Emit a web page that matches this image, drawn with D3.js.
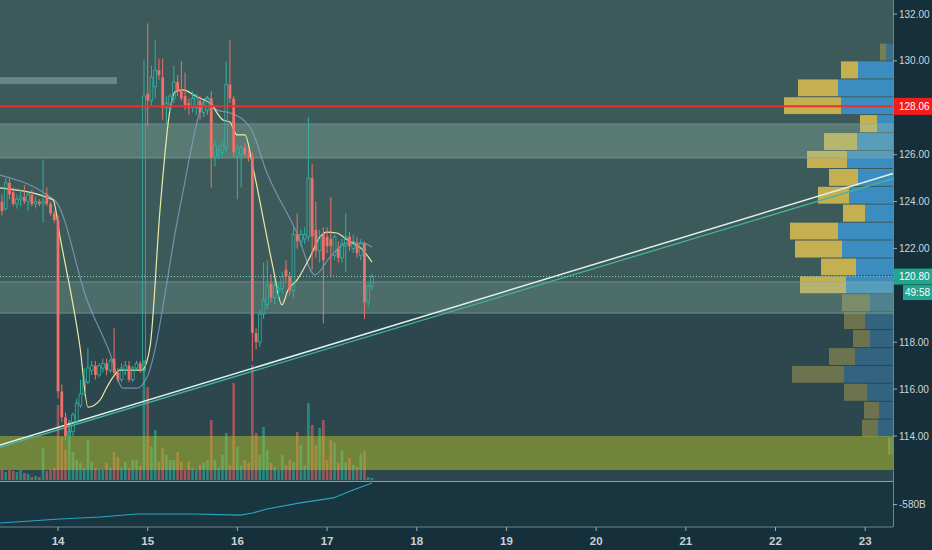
<!DOCTYPE html>
<html>
<head>
<meta charset="utf-8">
<script src="https://cdn.jsdelivr.net/npm/d3@7"></script>
<style>
html, body { margin: 0; padding: 0; background: #15303a; }
svg { display: block; font-family: "Liberation Sans", Arial, sans-serif; }
</style>
</head>
<body>
<svg id="chart" width="932" height="550"></svg>
<script>
// hourly candles, [open, high, low, close], first one at day 13.375
var candleStart = 13.375;
var candles = [
  [124.0,124.3,123.4,123.6],[123.7,125.0,123.6,124.8],[124.8,125.0,124.1,124.3],[124.4,124.6,123.8,123.9],
  [123.9,124.3,123.7,124.1],[124.1,124.5,123.8,124.2],[124.2,124.7,123.9,124.0],[124.0,124.4,123.6,124.3],
  [124.3,124.5,123.8,123.9],[123.9,124.2,123.7,124.0],[124.0,124.1,123.8,123.9],[123.9,125.8,123.1,124.0],
  [124.3,124.6,123.8,123.9],[123.9,124.0,123.4,123.5],[123.5,123.6,123.1,123.2],[123.2,123.4,115.6,115.9],
  [115.9,116.2,114.6,114.8],[114.8,115.0,113.8,114.0],[114.0,114.3,113.8,114.2],[114.2,115.0,114.0,114.9],
  [114.6,115.6,114.5,115.4],[115.3,116.4,115.2,115.8],[115.8,116.9,115.7,116.4],[116.3,117.75,116.2,116.9],
  [116.8,117.2,116.6,117.0],[117.0,117.2,116.4,116.6],[116.6,117.1,116.5,117.0],[116.9,117.3,116.7,117.1],
  [117.1,117.3,116.6,116.8],[116.8,117.3,116.7,117.2],[117.3,118.6,116.6,116.7],[116.7,116.9,116.3,116.4],
  [116.4,117.1,116.3,116.9],[116.8,117.2,116.6,117.0],[117.0,117.2,116.3,116.4],[116.4,117.0,116.3,116.9],
  [116.9,117.2,116.8,117.1],[117.1,117.2,116.7,116.8],[116.8,130.0,116.7,128.5],[128.6,131.6,127.2,128.3],
  [128.3,129.8,128.1,129.3],[128.9,130.9,128.4,129.6],[129.6,130.1,129.2,129.4],[129.3,130.1,127.5,128.0],
  [128.0,128.5,127.3,128.2],[128.0,128.6,127.8,128.5],[128.4,129.8,128.2,129.1],[129.1,129.4,128.5,128.7],
  [128.8,130.0,128.3,128.4],[128.5,129.5,127.9,128.1],[128.2,128.4,127.7,128.0],[128.0,128.7,127.8,128.4],
  [128.0,128.6,127.7,128.5],[128.3,128.5,127.5,127.8],[127.8,128.3,127.6,128.1],[127.9,128.5,127.7,128.4],
  [128.4,128.7,124.6,125.9],[125.9,126.6,125.5,126.4],[126.0,126.4,125.8,126.2],[126.1,126.6,125.9,126.4],
  [126.3,130.0,126.1,129.0],[129.0,130.9,128.2,128.4],[128.4,128.5,125.9,126.1],[125.9,126.5,124.1,126.3],
  [126.0,126.4,124.6,126.3],[126.3,126.5,125.9,126.0],[126.0,126.2,125.7,125.9],[125.9,126.1,117.2,118.4],
  [118.4,118.6,117.7,118.0],[118.0,119.4,117.8,119.2],[119.2,121.4,119.0,119.8],[119.6,121.5,119.4,120.4],
  [120.5,120.9,119.7,119.9],[119.9,120.6,119.6,120.4],[120.2,120.5,119.9,120.3],[120.3,121.0,120.1,120.8],
  [121.1,121.5,120.6,120.8],[120.8,121.0,120.0,120.2],[120.2,123.0,119.9,122.6],[122.6,123.5,122.0,122.3],
  [122.3,122.8,122.1,122.6],[122.4,122.9,122.2,122.6],[122.5,127.6,122.3,125.0],[125.0,125.6,121.1,122.5],
  [122.8,124.0,121.6,121.9],[121.9,122.8,121.4,122.5],[122.6,122.9,118.8,121.5],[122.5,122.9,121.8,122.1],
  [122.4,124.2,120.8,122.1],[121.7,122.6,121.5,122.5],[122.0,122.3,121.4,121.6],[121.6,122.4,121.4,122.2],
  [122.1,123.5,121.0,122.5],[122.5,122.7,121.9,122.1],[122.0,122.6,121.8,122.3],[122.2,122.5,121.6,121.8],
  [121.7,122.4,121.5,122.2],[122.2,122.3,119.0,119.7],[119.7,120.5,119.5,120.4],[120.4,120.9,120.2,120.8]
];
var volumes = [
  10,8,10,9,8,10,7,6,3,4, 3,32,9,10,12,75,43,30,60,28,
  20,17,12,40,18,12,10,10,17,12, 28,23,12,18,12,20,20,14,120,93,
  33,50,18,32,25,20,20,28,18,10, 18,12,10,15,17,20,60,20,12,25,
  47,15,97,33,15,20,17,115,47,25, 53,30,17,13,10,25,15,20,18,48,
  35,15,77,55,35,52,60,20,40,37, 17,30,17,22,15,13,26,29,3,2
];

// moving averages, [day, price]
var fastMA = [
  [13.353,124.58],[13.944,124.07],[14.022,122.49],[14.245,117.79],[14.334,115.23],[14.468,115.53],
  [14.546,116.09],[14.613,116.51],[14.691,116.81],[14.936,116.81],[15.025,117.79],[15.137,123.64],
  [15.248,127.90],[15.304,128.67],[15.393,128.76],[15.549,128.46],[15.694,128.20],[15.839,127.48],
  [15.917,127.39],[15.995,126.84],[16.084,126.84],[16.173,125.47],[16.285,123.34],[16.396,121.21],
  [16.497,119.59],[16.564,120.23],[16.664,120.65],[16.809,121.63],[16.920,122.49],[16.999,122.70],
  [17.110,122.66],[17.199,122.44],[17.288,122.23],[17.400,121.93],[17.500,121.42]
];
var slowMA = [
  [13.353,125.13],[13.877,124.28],[13.988,123.94],[14.323,119.80],[14.579,117.54],[14.724,116.04],
  [14.880,116.04],[14.992,116.51],[15.360,123.77],[15.616,128.20],[15.661,128.46],[15.772,127.90],
  [15.917,127.78],[16.140,127.18],[16.330,125.22],[16.664,122.66],[16.865,120.87],[17.032,121.63],
  [17.221,122.23],[17.400,122.23],[17.500,122.06]
];
// lower pane indicator, billions
var indicator = [
  [13.353,-761],[14.02,-722],[14.47,-702],[14.88,-673],[15.5,-673],[16.03,-683],[16.17,-663],
  [16.33,-624],[16.70,-565],[17.07,-516],[17.29,-438],[17.5,-370]
];

// volume profile rows (lower bounds, last value is the top of the last row)
var profileLevels = [113.19,113.95,114.72,115.48,116.25,117.01,117.77,118.54,119.30,120.07,120.83,121.59,
  122.36,123.12,123.89,124.65,125.41,126.18,126.94,127.71,128.47,129.23,130.00,130.76];
var profileBuy  = [3,15,14,26,49,38,23,28,23,47,37,51,55,28,44,35,46,36,16,52,55,35,7];
var profileSell = [2,16,15,23,52,26,17,21,28,46,35,47,48,22,31,29,40,33,17,57,40,17,6];
var valueArea = [9, 21];

var priceTicks = [132, 130, 126, 124, 122, 118, 116, 114];
var dayTicks = [14, 15, 16, 17, 18, 19, 20, 21, 22, 23];
var lastPrice = 120.80;
var redLevel = 128.06;
// [lowPrice, highPrice]
var zones = [[125.86, 127.31], [119.24, 120.57]];
var demandZone = [112.55, 114.0];
var smallBox = [13.353, 14.657, 129.01, 129.31];
var trendWhite = [[13.353, 113.61], [23.31, 125.2]];
var trendTeal = [[13.353, 113.52], [23.31, 124.98]];

var W = 932, H = 550;
var plotRight = 893, paneSplit = 482, paneBottom = 527;

var svg = d3.select("#chart");
var x = d3.scaleLinear().domain([13.353, 23.31]).range([0, plotRight]);
var y = d3.scaleLinear().domain([132, 114]).range([14, 436]);
var yVol = d3.scaleLinear().domain([0, 150]).range([480, 330]);
var yInd = d3.scaleLinear().domain([-800, -360]).range([527, 482]);
var profX = d3.scaleLinear().domain([0, 150]).range([0, 150]);

function axisText(g, tx, ty, str, color) {
  return g.append("text").attr("x", tx).attr("y", ty).attr("dy", "0.35em")
    .attr("font-size", 10).attr("fill", color).text(str);
}

// backgrounds
svg.append("rect").attr("width", W).attr("height", H).attr("fill", "#15303a");
svg.append("rect").attr("width", plotRight).attr("height", paneSplit).attr("fill", "#2c474d");
svg.append("rect").attr("width", plotRight).attr("height", y(zones[1][1])).attr("fill", "#3d5a5a");
svg.append("rect").attr("y", paneSplit).attr("width", plotRight).attr("height", paneBottom - paneSplit).attr("fill", "#19353f");

svg.append("rect")
  .attr("x", x(smallBox[0])).attr("width", x(smallBox[1]) - x(smallBox[0]))
  .attr("y", y(smallBox[3])).attr("height", y(smallBox[2]) - y(smallBox[3]))
  .attr("fill", "#678686");

// volume bars
svg.append("g").selectAll("rect").data(volumes).enter().append("rect")
  .attr("x", function(d, i) { return x(candleStart + i / 24) - 1.3; })
  .attr("width", 2.6)
  .attr("y", function(d) { return yVol(d); })
  .attr("height", function(d) { return yVol(0) - yVol(d); })
  .attr("fill", function(d, i) { return candles[i][3] >= candles[i][0] ? "#2aa596" : "#d05c5c"; })
  .attr("opacity", 0.7);

// volume profile
var prof = svg.append("g");
profileBuy.forEach(function(b, i) {
  var top = y(profileLevels[i + 1]) + 0.5;
  var h = y(profileLevels[i]) - y(profileLevels[i + 1]) - 1;
  var inVA = i >= valueArea[0] && i <= valueArea[1];
  prof.append("rect").attr("x", plotRight - profX(b)).attr("width", profX(b))
    .attr("y", top).attr("height", h).attr("fill", "#3b91ca").attr("opacity", inVA ? 0.92 : 0.4);
  prof.append("rect").attr("x", plotRight - profX(b) - profX(profileSell[i])).attr("width", profX(profileSell[i]))
    .attr("y", top).attr("height", h).attr("fill", "#cfb650").attr("opacity", inVA ? 0.92 : 0.4);
});

// zones
zones.forEach(function(z) {
  svg.append("rect").attr("x", 0).attr("width", plotRight)
    .attr("y", y(z[1])).attr("height", y(z[0]) - y(z[1]))
    .attr("fill", "#9cc8b0").attr("opacity", 0.3);
  [z[0], z[1]].forEach(function(p) {
    svg.append("line").attr("x1", 0).attr("x2", plotRight).attr("y1", y(p)).attr("y2", y(p))
      .attr("stroke", "#86aaa6").attr("stroke-width", 1).attr("opacity", 0.6);
  });
});
svg.append("rect").attr("x", 0).attr("width", plotRight)
  .attr("y", y(demandZone[1])).attr("height", y(demandZone[0]) - y(demandZone[1]))
  .attr("fill", "#b4c22c").attr("opacity", 0.5);

// trend lines
var line = d3.line().x(function(d) { return x(d[0]); }).y(function(d) { return y(d[1]); });
svg.append("path").datum(trendTeal).attr("d", line).attr("fill", "none").attr("stroke", "#45b39a").attr("stroke-width", 1.3);
svg.append("path").datum(trendWhite).attr("d", line).attr("fill", "none").attr("stroke", "#dff2ec").attr("stroke-width", 1.5);

// moving averages
var smooth = d3.line().curve(d3.curveMonotoneX).x(function(d) { return x(d[0]); }).y(function(d) { return y(d[1]); });
svg.append("path").datum(slowMA).attr("d", smooth).attr("fill", "none")
  .attr("stroke", "#8aa4cc").attr("stroke-width", 1.2).attr("opacity", 0.75);
svg.append("path").datum(fastMA).attr("d", smooth).attr("fill", "none")
  .attr("stroke", "#ece9a6").attr("stroke-width", 1.2);

// candles, up ones hollow
var cg = svg.append("g");
candles.forEach(function(c, i) {
  var cx = x(candleStart + i / 24);
  var up = c[3] >= c[0];
  var col = up ? "#2fb3a0" : "#f0706a";
  var top = y(Math.max(c[0], c[3])), bot = y(Math.min(c[0], c[3]));
  cg.append("line").attr("x1", cx).attr("x2", cx).attr("y1", y(c[1])).attr("y2", top)
    .attr("stroke", col).attr("stroke-width", 1);
  cg.append("line").attr("x1", cx).attr("x2", cx).attr("y1", bot).attr("y2", y(c[2]))
    .attr("stroke", col).attr("stroke-width", 1);
  cg.append("rect").attr("x", cx - 1.4).attr("width", 2.8)
    .attr("y", top).attr("height", Math.max(1, bot - top))
    .attr("fill", up ? "none" : col).attr("stroke", up ? col : "none").attr("stroke-width", 0.8);
});

// price lines
svg.append("line").attr("x1", 0).attr("x2", plotRight).attr("y1", y(redLevel)).attr("y2", y(redLevel))
  .attr("stroke", "#e8302c").attr("stroke-width", 2);
svg.append("line").attr("x1", 0).attr("x2", plotRight).attr("y1", y(lastPrice)).attr("y2", y(lastPrice))
  .attr("stroke", "#8fd6c8").attr("stroke-width", 1).attr("stroke-dasharray", "1,2");

// lower pane line
svg.append("path").datum(indicator)
  .attr("d", d3.line().x(function(d) { return x(d[0]); }).y(function(d) { return yInd(d[1]); }))
  .attr("fill", "none").attr("stroke", "#2aa6c4").attr("stroke-width", 1.2);

// frame lines
svg.append("line").attr("x1", 0).attr("x2", plotRight).attr("y1", paneSplit - 0.5).attr("y2", paneSplit - 0.5)
  .attr("stroke", "#8a9ea4").attr("stroke-width", 1.2);
svg.append("line").attr("x1", 0).attr("x2", plotRight).attr("y1", paneBottom).attr("y2", paneBottom)
  .attr("stroke", "#6f858c").attr("stroke-width", 1);
svg.append("line").attr("x1", plotRight + 0.5).attr("x2", plotRight + 0.5).attr("y1", 0).attr("y2", paneBottom)
  .attr("stroke", "#6f858c").attr("stroke-width", 1);

// price axis
var ax = svg.append("g");
priceTicks.forEach(function(p) {
  ax.append("line").attr("x1", plotRight).attr("x2", plotRight + 4).attr("y1", y(p)).attr("y2", y(p))
    .attr("stroke", "#9aaab0");
  axisText(ax, 899, y(p), d3.format(".2f")(p), "#cfd6d8");
});
ax.append("line").attr("x1", plotRight).attr("x2", plotRight + 4).attr("y1", yInd(-580)).attr("y2", yInd(-580))
  .attr("stroke", "#9aaab0");
axisText(ax, 899, yInd(-580), "-580B", "#cfd6d8");

// price labels
svg.append("rect").attr("x", plotRight + 1).attr("y", y(redLevel) - 8.5).attr("width", W - plotRight).attr("height", 17)
  .attr("fill", "#f21c1c");
axisText(svg, 899, y(redLevel), d3.format(".2f")(redLevel), "#ffffff");
svg.append("rect").attr("x", plotRight + 1).attr("y", y(lastPrice) - 8).attr("width", W - plotRight).attr("height", 16)
  .attr("fill", "#23a48f");
axisText(svg, 899, y(lastPrice), d3.format(".2f")(lastPrice), "#ffffff");
svg.append("rect").attr("x", 903).attr("y", y(lastPrice) + 8.5).attr("width", W - 903).attr("height", 15)
  .attr("fill", "#23a48f");
axisText(svg, 905, y(lastPrice) + 16, "49:58", "#ffffff");

// time axis
var tx = svg.append("g").attr("font-size", 11.5).attr("font-weight", "bold").attr("fill", "#c9d1d4")
  .attr("text-anchor", "middle");
dayTicks.forEach(function(d) {
  tx.append("line").attr("x1", x(d)).attr("x2", x(d)).attr("y1", paneBottom).attr("y2", paneBottom + 4)
    .attr("stroke", "#9aaab0");
  tx.append("text").attr("x", x(d)).attr("y", 541).attr("dy", "0.35em").text(d);
});
</script>
</body>
</html>
